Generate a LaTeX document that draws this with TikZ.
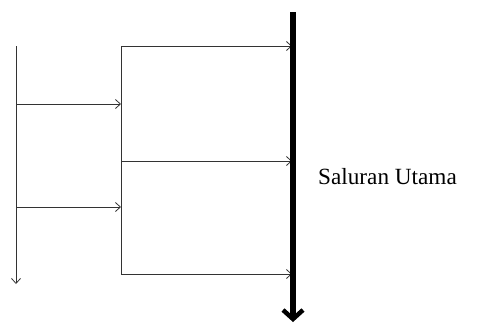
\documentclass[tikz,border=0pt]{standalone}
\usepackage{fontspec}
\setmainfont{Liberation Serif}
\usetikzlibrary{arrows.meta}
\begin{document}
\begin{tikzpicture}[x=1bp,y=-1bp,
  pipe/.style={line width=0.8bp, draw=black!80},
  flow/.style={pipe, -{Straight Barb[length=5bp,width=9bp,line width=0.8bp]}},
  main/.style={line width=5.5bp, -{Straight Barb[length=9bp,width=20bp,line width=4.5bp]}},
  lbl/.style={anchor=west, inner sep=0pt, font=\fontsize{23.3}{27}\selectfont}]
\useasboundingbox (0,0) rectangle (480,325);
% coordinates
\coordinate (l0) at (16,46);
\coordinate (l1) at (16,104);
\coordinate (l2) at (16,207);
\coordinate (lend) at (16,284);
\coordinate (m0) at (121,46);
\coordinate (m1) at (121,104);
\coordinate (m2) at (121,161);
\coordinate (m3) at (121,207);
\coordinate (m4) at (121,274);
\coordinate (r0) at (292,46);
\coordinate (r1) at (292,161);
\coordinate (r2) at (292,274);
\coordinate (ttop) at (293,12);
\coordinate (tbot) at (293,322);
% left channel
\draw[flow] (l0) -- (lend);
\draw[flow] (l1) -- (m1);
\draw[flow] (l2) -- (m3);
% middle channel
\draw[pipe] (m0) -- (m4);
\draw[flow] (m0) -- (r0);
\draw[flow] (m2) -- (r1);
\draw[flow] (m4) -- (r2);
% main channel
\draw[main] (ttop) -- (tbot);
\node[lbl] (label) at (318,177) {Saluran Utama};
\end{tikzpicture}
\end{document}
